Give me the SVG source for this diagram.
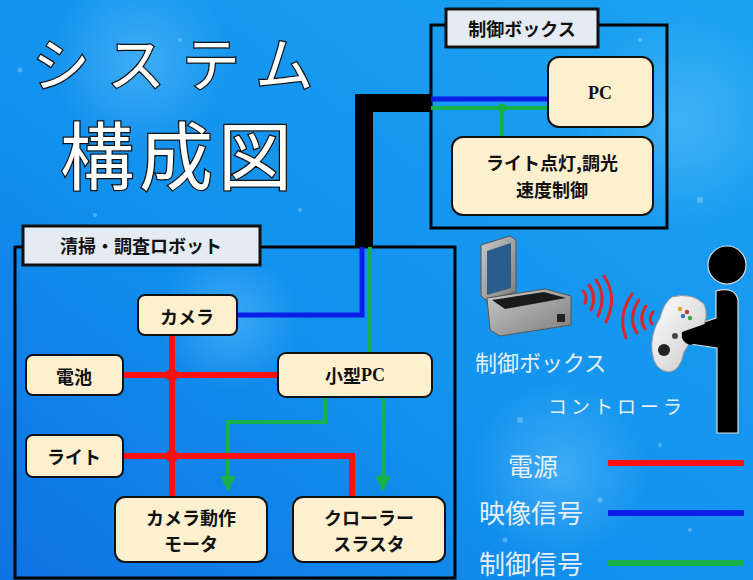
<svg xmlns="http://www.w3.org/2000/svg" width="753" height="580" viewBox="0 0 753 580">
  <defs>
    <linearGradient id="bg" x1="0" y1="1" x2="1" y2="0">
      <stop offset="0" stop-color="#0f72e2"/>
      <stop offset="0.4" stop-color="#1290ee"/>
      <stop offset="1" stop-color="#1ca3f1"/>
    </linearGradient>
    <radialGradient id="glow" cx="0.5" cy="0.5" r="0.5">
      <stop offset="0" stop-color="#7fd0ff" stop-opacity="0.4"/>
      <stop offset="1" stop-color="#7fd0ff" stop-opacity="0"/>
    </radialGradient>
    <marker id="arrowG" viewBox="0 0 10 10" refX="9" refY="5" markerWidth="4" markerHeight="4" orient="auto" markerUnits="strokeWidth">
      <path d="M0,0 L10,5 L0,10 z" fill="#17b04a"/>
    </marker>
    <linearGradient id="metal" x1="0" y1="0" x2="1" y2="1">
      <stop offset="0" stop-color="#c9c9c9"/>
      <stop offset="1" stop-color="#7d7d7d"/>
    </linearGradient>
    <linearGradient id="pad" x1="0" y1="0" x2="1" y2="1">
      <stop offset="0" stop-color="#ffffff"/>
      <stop offset="1" stop-color="#c8c8c8"/>
    </linearGradient>
  </defs>
  <style>
    .node { fill: #fdf0cf; stroke: #111; stroke-width: 2; }
    .tag { fill: #e4ebf3; stroke: #111; stroke-width: 3; }
    .frame { fill: none; stroke: #000; stroke-width: 3; }
    .lbl { font-family: "Noto Sans CJK JP", "Noto Sans", sans-serif; font-weight: 700; font-size: 18px; fill: #111; text-anchor: middle; dominant-baseline: central; }
    .pc { font-family: "Liberation Serif", serif; font-weight: 700; }
    .title { font-family: "Noto Sans CJK JP", sans-serif; font-weight: 400; fill: #ffffff; stroke: #111; stroke-width: 2.5; paint-order: stroke; }
    .note { font-family: "Noto Sans CJK JP", sans-serif; font-weight: 400; fill: #e6eef6; }
    .pwr { stroke: #ff1010; stroke-width: 6; fill: none; }
    .vid { stroke: #0a1ee8; stroke-width: 5; fill: none; }
    .ctl { stroke: #17b04a; stroke-width: 4; fill: none; }
    .wave { stroke: #d8262a; stroke-width: 3; fill: none; stroke-linecap: round; }
  </style>

  <!-- backdrop -->
  <rect width="753" height="580" fill="url(#bg)"/>
  <g fill="url(#glow)">
    <circle cx="140" cy="60" r="90"/>
    <circle cx="680" cy="120" r="110"/>
    <circle cx="560" cy="470" r="90"/>
    <circle cx="230" cy="320" r="70"/>
  </g>
  <g fill="#bfe8ff" opacity="0.35">
    <circle cx="20" cy="70" r="2.5"/><circle cx="180" cy="40" r="2"/><circle cx="95" cy="215" r="2"/>
    <circle cx="700" cy="200" r="3"/><circle cx="640" cy="40" r="2"/><circle cx="520" cy="420" r="3"/>
    <circle cx="600" cy="500" r="2.5"/><circle cx="690" cy="530" r="2"/><circle cx="505" cy="540" r="2.5"/>
    <circle cx="660" cy="445" r="2"/><circle cx="300" cy="210" r="2"/><circle cx="545" cy="475" r="2"/>
  </g>

  <!-- title -->
  <text class="title" x="32" y="86" font-size="58" letter-spacing="17">システム</text>
  <text class="title" x="60" y="184" font-size="74" letter-spacing="5">構成図</text>

  <!-- frames -->
  <rect class="frame" x="431" y="25" width="236" height="203"/>
  <rect class="frame" x="15" y="247" width="440" height="331"/>

  <!-- connectors -->
  <g id="connectors">
    <!-- tether cable -->
    <path d="M364,247 V103 H431" stroke="#000" stroke-width="18" fill="none"/>
    <!-- control box wiring -->
    <line class="vid" x1="431" y1="99" x2="548" y2="99"/>
    <line class="ctl" x1="431" y1="108" x2="548" y2="108"/>
    <line class="ctl" x1="502" y1="108" x2="502" y2="137"/>
    <circle cx="502" cy="108" r="4.5" fill="#17b04a"/>
    <!-- video -->
    <path class="vid" d="M237,315 H362 V247"/>
    <!-- control from cable -->
    <path class="ctl" d="M370,247 V353"/>
    <path class="ctl" d="M325,397 V422 H228 V490" marker-end="url(#arrowG)"/>
    <path class="ctl" d="M383,397 V490" marker-end="url(#arrowG)"/>
    <!-- power -->
    <line class="pwr" x1="172" y1="335" x2="172" y2="497"/>
    <line class="pwr" x1="123" y1="375" x2="278" y2="375"/>
    <path class="pwr" d="M123,456 H352 V497"/>
    <circle cx="172" cy="375" r="6.5" fill="#ff1010"/>
    <circle cx="172" cy="456" r="6.5" fill="#ff1010"/>
  </g>

  <!-- frame tags -->
  <g id="tag-control">
    <rect class="tag" x="446" y="9" width="152" height="38"/>
    <text class="lbl" x="522" y="28" font-size="18">制御ボックス</text>
  </g>
  <g id="tag-robot">
    <rect class="tag" x="23" y="226" width="237" height="39"/>
    <text class="lbl" x="141" y="245" font-size="20">清掃・調査ロボット</text>
  </g>

  <!-- control box nodes -->
  <g id="pc">
    <rect class="node" x="548" y="57" width="105" height="70" rx="11"/>
    <text class="lbl pc" x="600" y="93" font-size="19">PC</text>
  </g>
  <g id="light-ctrl">
    <rect class="node" x="452" y="137" width="201" height="78" rx="11"/>
    <text class="lbl" x="552" y="162" font-size="19">ライト点灯,調光</text>
    <text class="lbl" x="552" y="189" font-size="19">速度制御</text>
  </g>

  <!-- robot nodes -->
  <g id="camera">
    <rect class="node" x="138" y="295" width="99" height="40" rx="7"/>
    <text class="lbl" x="187" y="316" font-size="19">カメラ</text>
  </g>
  <g id="battery">
    <rect class="node" x="26" y="355" width="97" height="40" rx="7"/>
    <text class="lbl" x="74" y="376" font-size="19">電池</text>
  </g>
  <g id="mini-pc">
    <rect class="node" x="278" y="353" width="154" height="44" rx="8"/>
    <text class="lbl" x="355" y="375" font-size="19">小型<tspan class="pc">PC</tspan></text>
  </g>
  <g id="light">
    <rect class="node" x="26" y="435" width="97" height="42" rx="7"/>
    <text class="lbl" x="74" y="456" font-size="19">ライト</text>
  </g>
  <g id="cam-motor">
    <rect class="node" x="115" y="497" width="152" height="65" rx="10"/>
    <text class="lbl" x="191" y="517">カメラ動作</text>
    <text class="lbl" x="191" y="543">モータ</text>
  </g>
  <g id="crawler">
    <rect class="node" x="293" y="497" width="152" height="65" rx="10"/>
    <text class="lbl" x="369" y="517">クローラー</text>
    <text class="lbl" x="369" y="543">スラスタ</text>
  </g>

  <!-- control box picture -->
  <g id="case-icon">
    <path d="M481,245 L510,236 L516,240 L516,292 L486,300 L481,296 Z" fill="url(#metal)" stroke="#555" stroke-width="1"/>
    <path d="M487,251 L511,243 L511,288 L487,295 Z" fill="#2a5d8a"/>
    <path d="M487,298 L545,289 L571,296 L571,325 L500,336 L490,330 Z" fill="url(#metal)" stroke="#555" stroke-width="1"/>
    <path d="M492,300 L544,292 L566,298 L505,309 Z" fill="#1a1a1a"/>
    <rect x="557" y="314" width="8" height="8" fill="#222"/>
  </g>
  <g id="waves">
    <path class="wave" d="M583,291 Q588,296 585,303"/>
    <path class="wave" d="M589,285 Q597,296 591,310"/>
    <path class="wave" d="M596,280 Q607,296 598,316"/>
    <path class="wave" d="M604,276 Q618,297 606,322"/>
    <path class="wave" d="M653,312 Q648,318 652,324"/>
    <path class="wave" d="M646,306 Q638,318 645,329"/>
    <path class="wave" d="M639,300 Q627,318 637,333"/>
    <path class="wave" d="M632,294 Q617,316 626,338"/>
  </g>
  <g id="person">
    <circle cx="727" cy="265" r="19" fill="#000" stroke="#ddd" stroke-width="1.2"/>
    <path d="M716,291 Q735,286 738,300 L738,433 L717,433 L717,348 L690,344 Q676,340 680,330 L716,318 Z" fill="#000" stroke="#ddd" stroke-width="1.2"/>
    <!-- gamepad -->
    <path d="M672,297 Q692,292 704,304 Q710,318 700,332 Q690,340 684,352 Q680,372 668,372 Q654,370 652,352 Q650,334 660,318 Q664,302 672,297 Z" fill="url(#pad)" stroke="#999" stroke-width="1"/>
    <circle cx="664" cy="350" r="6" fill="#222"/>
    <circle cx="675" cy="336" r="3" fill="#444"/>
    <circle cx="680" cy="309" r="2.2" fill="#e0a020"/>
    <circle cx="687" cy="312" r="2.2" fill="#d03030"/>
    <circle cx="683" cy="316" r="2.2" fill="#3070d0"/>
    <circle cx="690" cy="318" r="2.2" fill="#40a040"/>
    <path d="M682,332 L716,320 L716,338 L690,345 Q680,342 682,332 Z" fill="#000"/>
  </g>

  <!-- captions and legend -->
  <text class="note" x="475" y="371" font-size="22">制御ボックス</text>
  <text class="note" x="548" y="414" font-size="19" letter-spacing="4">コントローラ</text>
  <text class="note" x="508" y="476" font-size="25">電源</text>
  <text class="note" x="479" y="523" font-size="26">映像信号</text>
  <text class="note" x="479" y="574" font-size="26">制御信号</text>
  <line x1="608" y1="463" x2="744" y2="463" stroke="#ff1010" stroke-width="6"/>
  <line x1="608" y1="513" x2="744" y2="513" stroke="#0a1ee8" stroke-width="6"/>
  <line x1="608" y1="563" x2="744" y2="563" stroke="#17b04a" stroke-width="6"/>
</svg>
